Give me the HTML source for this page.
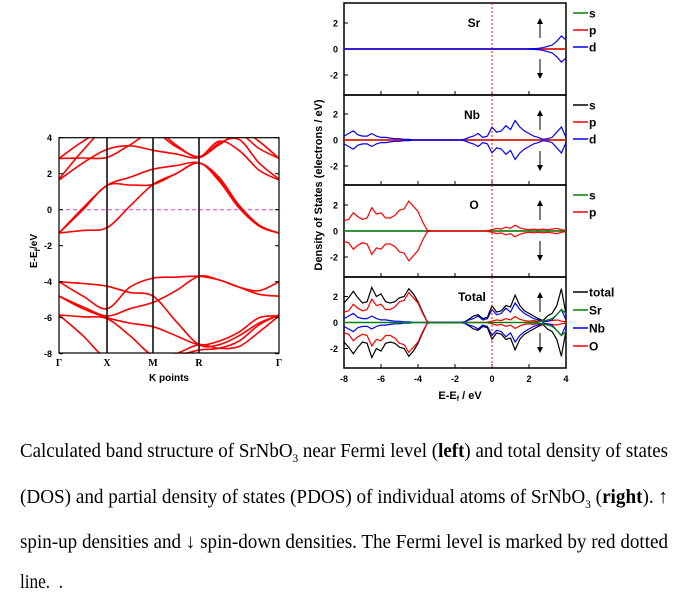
<!DOCTYPE html>
<html><head><meta charset="utf-8">
<style>
body{margin:0;background:#fff;width:683px;height:598px;overflow:hidden;position:relative;font-family:"Liberation Sans",sans-serif}
svg{position:absolute;left:0;top:0}
.cap{position:absolute;left:20px;font-family:"Liberation Serif",serif;font-size:20px;color:#000;white-space:nowrap;transform-origin:0 0;display:inline-block}
</style></head><body>
<svg id="fig" width="683" height="430"></svg>
<div class="cap fit" style="top:440px">Calculated band structure of SrNbO<sub style="font-size:12px">3</sub> near Fermi level (<b>left</b>) and total density of states</div>
<div class="cap fit" style="top:486px">(DOS) and partial density of states (PDOS) of individual atoms of SrNbO<sub style="font-size:12px">3</sub> (<b>right</b>). ↑</div>
<div class="cap fit" style="top:531px">spin-up densities and ↓ spin-down densities. The Fermi level is marked by red dotted</div>
<div class="cap" style="top:571px;transform:scaleX(0.86)">line.&nbsp; .</div>
<script>
document.querySelectorAll('.fit').forEach(el=>{const w=el.getBoundingClientRect().width;el.style.transform='scaleX('+(648/w)+')';});
// ---------- band data ----------
const kLabels=["Γ","X","M","R","Γ"];
const kSamples=[0,0.5,1,1.5,2,2.5,3,3.25,3.5,3.75,4];
const bandC1=[-1.3,-1.15,-1.0,0.2,1.4,2.0,2.6,1.6,0.1,-0.9,-1.3];
const bandC2=[-1.3,0.0,1.35,1.37,1.4,2.0,2.6,1.7,0.2,-0.9,-1.3];
const bandC3=[-1.3,0.1,1.35,1.8,2.25,2.45,2.6,1.8,0.25,-0.85,-1.3];
const bandU1=[1.65,2.6,3.35,3.55,3.3,3.1,2.9,3.8,3.3,2.2,1.65];
const bandU2=[1.7,3.3,4.6,4.6,4.6,3.6,2.9,3.7,3.9,2.6,1.7];
const bandU3=[2.85,2.87,2.9,3.6,4.3,3.5,2.95,3.6,4.2,3.4,2.85];
const bandU4=[2.85,3.8,4.5,4.5,4.5,4.5,4.5,4.5,4.5,3.8,2.85];
const bandV1=[-4.0,-4.1,-4.25,-4.6,-4.8,-6.2,-7.5,-7.5,-7.0,-6.3,-5.85];
const bandV2=[-4.0,-4.8,-5.5,-4.3,-3.8,-3.75,-3.7,-3.9,-4.3,-4.5,-4.0];
const bandV3=[-4.8,-5.4,-5.9,-5.5,-5.15,-4.5,-3.7,-3.9,-4.3,-4.7,-4.8];
const bandV4=[-4.8,-5.5,-6.0,-6.3,-6.5,-7.0,-7.5,-7.3,-6.8,-6.0,-5.9];
const bandV5=[-5.85,-5.95,-6.05,-7.0,-8.1,-8.1,-7.8,-7.7,-7.3,-6.4,-5.85];
const bandV6=[-5.85,-7.0,-8.3,-8.3,-8.3,-8.0,-7.5,-7.7,-7.6,-6.8,-5.9];
const bandTicks=[4,2,0,-2,-4,-6,-8];
// ---------- DOS data (E grid -8..4 step 0.25) ----------
const dosOp=[0.8,0.9,1.4,1.1,0.9,1.0,1.8,1.3,1.4,1.0,1.0,1.2,1.6,1.7,2.3,1.9,1.5,0.7,0.05,0,0,0,0,0,0,0,0,0,0,0,0,0.02,0.1,0.2,0.15,0.3,0.2,0.45,0.25,0.15,0.1,0.15,0.1,0.15,0.1,0.15,0.2,0.1,0.05];
const dosNbd=[0.3,0.5,0.7,0.4,0.3,0.3,0.5,0.3,0.2,0.2,0.15,0.1,0.1,0.05,0.05,0,0,0,0,0,0,0,0,0,0,0,0.05,0.2,0.3,0.5,0.2,0.3,1.0,0.6,0.7,1.1,0.8,1.5,1.0,0.7,0.5,0.3,0.2,0.05,0.1,0.2,0.6,1.0,0.2];
const dosSrd=[0,0,0,0,0,0,0,0,0,0,0,0,0,0,0,0,0,0,0,0,0,0,0,0,0,0,0,0,0,0,0,0,0,0,0,0,0,0,0,0,0.02,0.03,0.05,0.1,0.2,0.3,0.6,1.0,0.7];
const dosTotal=[1.5,1.9,2.4,1.9,1.5,1.6,2.7,2.0,2.2,1.6,1.5,1.6,1.9,2.0,2.6,2.2,1.6,0.8,0.05,0,0,0,0,0,0,0,0.05,0.25,0.5,0.6,0.3,0.4,1.3,0.8,0.9,1.3,1.2,2.1,1.3,0.9,0.7,0.5,0.3,0.15,0.5,0.7,1.3,2.6,0.6];
const dosXTicks=[-8,-6,-4,-2,0,2,4];
const dosYTicks=[2,0,-2];

const NS="http://www.w3.org/2000/svg";
const svg=document.getElementById('fig');
function mk(tag,attrs,parent){const e=document.createElementNS(NS,tag);for(const k in attrs)e.setAttribute(k,attrs[k]);(parent||svg).appendChild(e);return e;}
function txt(x,y,s,attrs){const t=mk('text',Object.assign({x:x,y:y,'font-family':'Liberation Sans, sans-serif','font-size':10,'font-weight':'bold'},attrs||{}));t.textContent=s;return t;}

// ---------- band structure ----------
const kPix=[59,107,153,199,279];
function bx(k){const i=Math.min(3,Math.floor(k));return kPix[i]+(k-i)*(kPix[i+1]-kPix[i]);}
function by(e){return 137.7+(4-e)*18;}
const cp=mk('clipPath',{id:'bclip'});
mk('rect',{x:59,y:137.7,width:220,height:216},cp);
const bg=mk('g',{'clip-path':'url(#bclip)'});


const fl=mk('line',{x1:59,x2:279,y1:by(0),y2:by(0),stroke:'#e040c0','stroke-width':1,'stroke-dasharray':'4,3'},bg);


function smooth(pts){let d='M'+pts[0][0]+','+pts[0][1];for(let i=0;i<pts.length-1;i++){const p0=pts[Math.max(0,i-1)],p1=pts[i],p2=pts[i+1],p3=pts[Math.min(pts.length-1,i+2)];const c1=[p1[0]+(p2[0]-p0[0])/6,p1[1]+(p2[1]-p0[1])/6],c2=[p2[0]-(p3[0]-p1[0])/6,p2[1]-(p3[1]-p1[1])/6];d+=' C'+c1[0].toFixed(1)+','+c1[1].toFixed(1)+' '+c2[0].toFixed(1)+','+c2[1].toFixed(1)+' '+p2[0].toFixed(1)+','+p2[1].toFixed(1);}return d;}
const bands=[bandC1,bandC2,bandC3,bandU1,bandU2,bandU3,bandU4,bandV1,bandV2,bandV3,bandV4,bandV5,bandV6];
bands.forEach((b,bi)=>{const p=mk('path',{d:smooth(kSamples.map((k,i)=>[bx(k),by(b[i])])),fill:'none',stroke:'#ff0000','stroke-width':1.6},bg);

});
[1,2,3].forEach(i=>{const l=mk('line',{x1:kPix[i],x2:kPix[i],y1:137.7,y2:353,stroke:'#000','stroke-width':1.5});

});
const bf=mk('rect',{x:59,y:137.7,width:220,height:215.3,fill:'none',stroke:'#000','stroke-width':1.2});


bandTicks.forEach(v=>{mk('line',{x1:59,x2:63,y1:by(v),y2:by(v),stroke:'#000'});mk('line',{x1:279,x2:275,y1:by(v),y2:by(v),stroke:'#000'});
const t=txt(52,by(v)+3.5,String(v),{'text-anchor':'end','font-size':9});

});
kLabels.forEach((s,i)=>{const t=txt(kPix[i],366,s,{'text-anchor':'middle','font-family':'Liberation Serif, serif','font-size':10});

});
const kx=txt(169,381,'K points',{'text-anchor':'middle','font-size':10});


const ky=txt(0,0,'',{'font-size':10,transform:'translate(37,268) rotate(-90)'});
const s1=mk('tspan',{},ky);s1.textContent='E-E';const s2=mk('tspan',{'font-size':7,dy:3},ky);s2.textContent='f';const s3=mk('tspan',{dy:-3},ky);s3.textContent='/eV';



// ---------- DOS panels ----------
const dx0=344,dx1=566;
function dx(e){return dx0+(e+8)/12*(dx1-dx0);}
const dosE=dosOp.map((_,i)=>-8+i*0.25);
const panels=[
 {name:'sr',top:3,label:'Sr',lx:474,series:[['#008000',null],['#ff0000',null],['#0000ff',dosSrd]],leg:[['#008000','s'],['#ff0000','p'],['#0000ff','d']]},
 {name:'nb',top:95,label:'Nb',lx:472,series:[['#008000',null],['#ff0000',null],['#0000ff',dosNbd]],leg:[['#000','s'],['#ff0000','p'],['#0000ff','d']]},
 {name:'o',top:185,label:'O',lx:474,series:[['#808080',null],['#008000',null],['#ff0000',dosOp]],leg:[['#008000','s'],['#ff0000','p']]},
 {name:'total',top:277,label:'Total',lx:472,series:[['#000',dosTotal],['#ff0000',dosOp],['#0000ff',dosNbd],['#008000',dosSrd]],leg:[['#000','total'],['#008000','Sr'],['#0000ff','Nb'],['#ff0000','O']]}
];
panels.forEach((P,pi)=>{
 const h=(pi==0)?92:(pi==3?91:(pi==1?90:92));
 const y0=P.top+h/2;const sc=13;
 const yv=v=>y0-v*sc;
 const g=mk('g',{});
 
 
 const fr=mk('rect',{x:dx0,y:P.top,width:dx1-dx0,height:h,fill:'none',stroke:'#000','stroke-width':1.5},g);
 
 
 dosYTicks.forEach(v=>{mk('line',{x1:dx0,x2:dx0+4,y1:yv(v),y2:yv(v),stroke:'#000'},g);
  const t=txt(338,yv(v)+3.5,String(v),{'text-anchor':'end','font-size':9});g.appendChild(t);
  
  });
 dosXTicks.forEach(v=>{mk('line',{x1:dx(v),x2:dx(v),y1:P.top+h,y2:P.top+h-4,stroke:'#000'},g);});
 P.series.forEach((s,si)=>{
  const arr=s[1];
  [1,-1].forEach(sg=>{
   let d='';dosE.forEach((e,i)=>{const v=arr?arr[i]:0;d+=(i?'L':'M')+dx(e).toFixed(1)+','+yv(sg*v).toFixed(1);});
   const p=mk('path',{d:d,fill:'none',stroke:s[0],'stroke-width':1.2},g);
   
   
  });
 });
 const fer=mk('line',{x1:dx(0),x2:dx(0),y1:P.top,y2:P.top+h,stroke:'#ff0000','stroke-dasharray':'2,2','stroke-width':1},g);
 
 
 const lt=txt(P.lx,P.top+24,P.label,{'font-size':12,'text-anchor':'middle'});g.appendChild(lt);
 
 
 mk('line',{x1:540,x2:540,y1:P.top+35,y2:P.top+20,stroke:'#000'},g);
 mk('path',{d:`M537,${P.top+21} L540,${P.top+15} L543,${P.top+21}Z`,fill:'#000'},g);
 mk('line',{x1:540,x2:540,y1:P.top+56,y2:P.top+71,stroke:'#000'},g);
 mk('path',{d:`M537,${P.top+70} L540,${P.top+76} L543,${P.top+70}Z`,fill:'#000'},g);
 P.leg.forEach((L,li)=>{
  const ly=P.top+(pi==3?15:10)+li*(pi==3?18:17);
  const lg=mk('g',{},g);
  
  
  mk('line',{x1:573,x2:588,y1:ly,y2:ly,stroke:L[0],'stroke-width':1.5},lg);
  lg.appendChild(txt(589,ly+4.5,L[1],{'font-size':12}));
 });
});
dosXTicks.forEach(v=>{const t=txt(dx(v),382,String(v),{'text-anchor':'middle','font-size':9});

});
const xt=txt(460,399,'',{'text-anchor':'middle','font-size':11});
const a1=mk('tspan',{},xt);a1.textContent='E-E';const a2=mk('tspan',{'font-size':7,dy:2},xt);a2.textContent='f';const a3=mk('tspan',{dy:-2},xt);a3.textContent=' / eV';


const yt=txt(0,0,'Density of States (electrons / eV)',{'text-anchor':'middle','font-size':11,transform:'translate(322,185) rotate(-90)'});


</script>
</body></html>
